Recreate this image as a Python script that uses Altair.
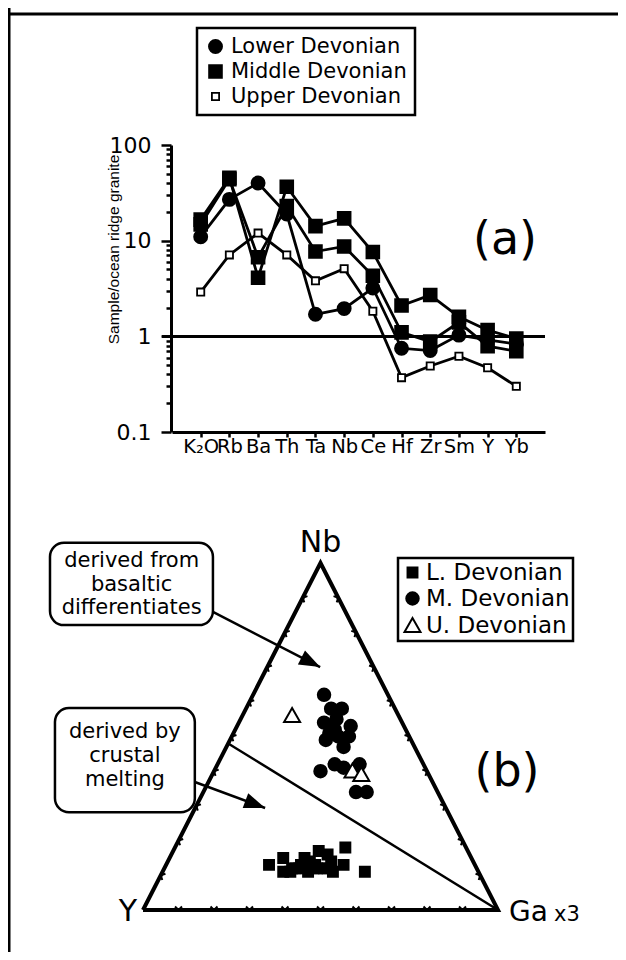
import altair as alt
import pandas as pd

FONT = "DejaVu Sans"
FONT_NARROW = "Liberation Sans"

# ---------------- panel (a): spider diagram ----------------
elements = ["K₂O", "Rb", "Ba", "Th", "Ta", "Nb", "Ce", "Hf", "Zr", "Sm", "Y", "Yb"]
lower_devonian = [11, 27, 40, 19, 1.7, 1.95, 3.2, 0.75, 0.71, 1.03, 0.92, 0.83]
middle_devonian_1 = [16.6, 45.5, 4.1, 36.6, 14.2, 17.1, 7.6, 2.1, 2.7, 1.6, 1.16, 0.95]
middle_devonian_2 = [14.8, 44, 6.7, 23, 7.7, 8.7, 4.3, 1.1, 0.88, 1.4, 0.79, 0.70]
upper_devonian = [2.9, 7.1, 12, 7.1, 3.8, 5.1, 1.83, 0.37, 0.49, 0.62, 0.47, 0.30]
periods_a = ["Lower Devonian", "Middle Devonian", "Upper Devonian"]
y_major = [0.1, 1, 10, 100]
y_ticks = [0.1, 0.2, 0.3, 0.4, 0.5, 0.6, 0.7, 0.8, 0.9,
           1, 2, 3, 4, 5, 6, 7, 8, 9,
           10, 20, 30, 40, 50, 60, 70, 80, 90, 100]
ref_level = 1

# ---------------- panel (b): Nb - Y - Ga x3 ternary ----------------
periods_b = ["L. Devonian", "M. Devonian", "U. Devonian"]
l_nb = [13, 15, 11, 12, 13, 11, 14, 13, 17, 12, 14, 11, 18, 13, 11, 12, 12, 16, 15, 11, 12, 12, 12]
l_ga = [29, 32, 34, 36, 38, 41, 40, 42, 41, 45, 46, 48, 48, 50, 57, 37, 42, 44, 38, 36, 38, 43, 46]
l_y = [58, 53, 55, 52, 49, 48, 46, 45, 42, 43, 40, 41, 34, 37, 32, 51, 46, 40, 47, 53, 50, 45, 42]
m_nb = [62, 58, 58, 54, 55, 53, 50, 49, 50, 47, 40, 42, 41, 42, 34, 34, 52, 51]
m_ga = [20, 24, 27, 24, 27, 32, 33, 27, 30, 33, 30, 33, 36, 40, 43, 46, 28, 27]
m_y = [18, 18, 15, 22, 18, 15, 17, 24, 20, 20, 30, 25, 23, 18, 23, 20, 20, 22]
u_nb = [56, 40, 39]
u_ga = [14, 39, 42]
u_y = [30, 21, 19]
tick_fracs = [10, 20, 30, 40, 50, 60, 70, 80, 90]
boundary_nb = [48, 0]
boundary_ga = [0, 100]
box_texts_1 = ["derived from", "basaltic", "differentiates"]
box_texts_2 = ["derived by", "crustal", "melting"]

# ---------------- tables ----------------
rows = []
for sample, period, vals in [("L1", periods_a[0], lower_devonian),
                             ("M1", periods_a[1], middle_devonian_1),
                             ("M2", periods_a[1], middle_devonian_2),
                             ("U1", periods_a[2], upper_devonian)]:
    for i, (e, v) in enumerate(zip(elements, vals)):
        rows.append({"sample": sample, "period": period, "element": e, "idx": i, "value": v})
df_a = pd.DataFrame(rows)

rows = []
for period, nb, ga, yy in [(periods_b[0], l_nb, l_ga, l_y),
                           (periods_b[1], m_nb, m_ga, m_y),
                           (periods_b[2], u_nb, u_ga, u_y)]:
    for a, b, c in zip(nb, ga, yy):
        rows.append({"period": period, "nb": a, "ga": b, "y": c})
df_b = pd.DataFrame(rows)

df_frame = pd.DataFrame({"nb": [0, 100, 0, 0], "ga": [0, 0, 100, 0], "o": [0, 1, 2, 3]})
rows = []
for t in tick_fracs:
    rows.append({"nb": 0, "ga": t, "ang": 0})
    rows.append({"nb": t, "ga": 0, "ang": 117})
    rows.append({"nb": t, "ga": 100 - t, "ang": 243})
df_ticks = pd.DataFrame(rows)
df_bound = pd.DataFrame({"nb": boundary_nb, "ga": boundary_ga, "o": [0, 1]})

# annotation geometry, in the ternary plot's cartesian units
df_boxes = pd.DataFrame({"x1": [-0.262, -0.248], "x2": [0.197, 0.146],
                         "y1": [1.058, 0.582], "y2": [0.821, 0.282]})
df_box_text = pd.DataFrame({
    "t": box_texts_1 + box_texts_2,
    "X": [-0.032] * 3 + [-0.051] * 3,
    "Yc": [1.007, 0.938, 0.869, 0.513, 0.444, 0.375],
})
df_arrows = pd.DataFrame({"id": [1, 1, 2, 2], "o": [0, 1, 0, 1],
                          "X": [0.197, 0.499, 0.146, 0.344],
                          "Yc": [0.859, 0.700, 0.369, 0.294]})
df_heads = pd.DataFrame({"X": [0.499, 0.344], "Yc": [0.700, 0.294], "ang": [27, 20.4]})

# ---------------- panel (a) chart ----------------
major_test = " || ".join(f"datum.value == {v}" for v in y_major)
x_scale_a = alt.Scale(type="point", domain=elements, range=[164, 537], padding=1.1)
y_scale_a = alt.Scale(type="log", domain=[0.1, 100], range=[424, 137], nice=False)

x_axis_a = alt.Axis(title=None, offset=-520, domainWidth=3, domainColor="black",
                    tickColor="black", tickWidth=2.5, tickSize=5, labelFontSize=19.5,
                    labelFont=FONT, labelColor="black", labelPadding=0, labelAngle=0,
                    labelOverlap=False, grid=False)
y_axis_a = alt.Axis(values=y_ticks, offset=-163, domainWidth=3, domainColor="black",
                    tickColor="black", tickWidth=2.5,
                    tickSize={"condition": {"test": major_test, "value": 10}, "value": 5},
                    labelExpr=f"({major_test}) ? format(datum.value, '~g') : ''",
                    labelFontSize=22, labelFont=FONT, labelColor="black", labelPadding=10,
                    labelOverlap=False, grid=False,
                    title="Sample/ocean ridge granite", titleFont=FONT_NARROW, titleFontSize=15.5,
                    titleFontWeight="normal", titleColor="black", titleAngle=270,
                    titleX=-58, titleY=241, titleAlign="center", titleBaseline="middle")

leg_a = alt.Legend(title=None, orient="none", legendX=189, legendY=20, padding=8,
                   strokeColor="black", labelFontSize=21, labelFont=FONT, labelColor="black",
                   labelLimit=400, symbolSize=256, symbolStrokeColor="black",
                   symbolStrokeWidth=1.8, rowPadding=3, labelOffset=5)

shape_circle = "M-0.82,0A0.82,0.82 0 1,0 0.82,0A0.82,0.82 0 1,0 -0.82,0Z"
shape_square = "M-0.8,-0.8H0.8V0.8H-0.8Z"
shape_small_square = "M-0.45,-0.45H0.45V0.45H-0.45Z"

xa = alt.X("element:N", scale=x_scale_a, sort=elements, axis=x_axis_a)
ya = alt.Y("value:Q", scale=y_scale_a, axis=y_axis_a)

lines_a = alt.Chart(df_a).mark_line(color="black", strokeWidth=2.8).encode(
    x=xa, y=ya, detail="sample:N", order="idx:Q")
points_a = alt.Chart(df_a).mark_point(filled=True, strokeWidth=1.8,
                                       opacity=1, size=256).encode(
    x=xa, y=ya,
    shape=alt.Shape("period:N", scale=alt.Scale(domain=periods_a,
                    range=[shape_circle, shape_square, shape_small_square]), legend=leg_a),
    fill=alt.Fill("period:N", scale=alt.Scale(domain=periods_a,
                  range=["black", "black", "white"]), legend=leg_a),
    stroke=alt.Stroke("period:N", scale=alt.Scale(domain=periods_a,
                      range=["black", "black", "black"]), legend=leg_a),
)
ref_a = alt.Chart(df_a).mark_rule(color="black", strokeWidth=2.8).encode(
    y=alt.datum(ref_level, scale=y_scale_a), x=alt.value(154), x2=alt.value(537))
panel_a = alt.layer(lines_a, points_a, ref_a)

# ---------------- panel (b) chart ----------------
xs_b = alt.Scale(domain=[0, 1], range=[135, 490], nice=False, zero=False)
ys_b = alt.Scale(domain=[0, 1], range=[902, 555], nice=False, zero=False)
xb = alt.X("X:Q", scale=xs_b, axis=None)
yb = alt.Y("Yc:Q", scale=ys_b, axis=None)
calc = dict(X="(datum.ga + datum.nb / 2) / 100", Yc="datum.nb / 100")

frame_b = alt.Chart(df_frame).transform_calculate(**calc).mark_line(
    color="black", strokeWidth=4, strokeJoin="miter").encode(x=xb, y=yb, order="o:Q")
ticks_b = alt.Chart(df_ticks).transform_calculate(**calc).mark_point(
    shape="M-1,-1L0,0L1,-1", size=49, color="black", strokeWidth=2, filled=False,
    opacity=1).encode(x=xb, y=yb, angle=alt.Angle("ang:Q", scale=None))
bound_b = alt.Chart(df_bound).transform_calculate(**calc).mark_line(
    color="black", strokeWidth=2.5).encode(x=xb, y=yb, order="o:Q")

leg_b = alt.Legend(title=None, orient="none", legendX=390, legendY=550, padding=3,
                   strokeColor="black", labelFontSize=23, labelFont=FONT, labelColor="black",
                   labelLimit=400, symbolSize=256, symbolStrokeColor="black",
                   symbolStrokeWidth=2, rowPadding=2, labelOffset=2)
shape_sq_b = "M-0.62,-0.62H0.62V0.62H-0.62Z"
shape_ci_b = "M-0.78,0A0.78,0.78 0 1,0 0.78,0A0.78,0.78 0 1,0 -0.78,0Z"
shape_tr_b = "M0,-0.95L1,0.8L-1,0.8Z"
points_b = alt.Chart(df_b).transform_calculate(**calc).mark_point(
    filled=True, strokeWidth=2, opacity=1, size=256).encode(
    x=xb, y=yb,
    shape=alt.Shape("period:N", scale=alt.Scale(domain=periods_b,
                    range=[shape_sq_b, shape_ci_b, shape_tr_b]), legend=leg_b),
    fill=alt.Fill("period:N", scale=alt.Scale(domain=periods_b,
                  range=["black", "black", "white"]), legend=leg_b),
    stroke=alt.Stroke("period:N", scale=alt.Scale(domain=periods_b,
                      range=["black", "black", "black"]), legend=leg_b),
)

boxes_b = alt.Chart(df_boxes).mark_rect(fill="white", stroke="black", strokeWidth=2.5,
                                        cornerRadius=14).encode(
    x=alt.X("x1:Q", scale=xs_b, axis=None), x2="x2:Q",
    y=alt.Y("y1:Q", scale=ys_b, axis=None), y2="y2:Q")
box_text_b = alt.Chart(df_box_text).mark_text(font=FONT, fontSize=21, color="black",
                                              align="center", baseline="middle").encode(
    x=xb, y=yb, text="t:N")
arrows_b = alt.Chart(df_arrows).mark_line(color="black", strokeWidth=2.5).encode(
    x=xb, y=yb, detail="id:N", order="o:Q")
heads_b = alt.Chart(df_heads).mark_point(shape="M0,0L-2,-0.75L-2,0.75Z", size=440,
                                          filled=True, color="black", opacity=1).encode(
    x=xb, y=yb, angle=alt.Angle("ang:Q", scale=None))

corner_nb = alt.Chart(pd.DataFrame({"nb": [100], "ga": [0], "t": ["Nb"]})).transform_calculate(
    **calc).mark_text(font=FONT, fontSize=30, color="black", align="center",
                      baseline="middle", dy=-20).encode(x=xb, y=yb, text="t:N")
corner_y = alt.Chart(pd.DataFrame({"nb": [0], "ga": [0], "t": ["Y"]})).transform_calculate(
    **calc).mark_text(font=FONT, fontSize=30, color="black", align="right",
                      baseline="middle", dx=-6, dy=2).encode(x=xb, y=yb, text="t:N")
corner_ga = alt.Chart(pd.DataFrame({"nb": [0], "ga": [100], "t": ["Ga"]})).transform_calculate(
    **calc).mark_text(font=FONT, fontSize=28, color="black", align="left",
                      baseline="middle", dx=11, dy=3).encode(x=xb, y=yb, text="t:N")
corner_x3 = alt.Chart(pd.DataFrame({"nb": [0], "ga": [100], "t": ["x3"]})).transform_calculate(
    **calc).mark_text(font=FONT, fontSize=21, color="black", align="left",
                      baseline="middle", dx=56, dy=5).encode(x=xb, y=yb, text="t:N")

panel_b = alt.layer(bound_b, arrows_b, boxes_b, box_text_b, heads_b, frame_b, ticks_b,
                    points_b, corner_nb, corner_y, corner_ga, corner_x3)

# ---------------- page furniture ----------------
label_a = alt.Chart(pd.DataFrame({"t": ["(a)"]})).mark_text(
    font=FONT, fontSize=46, color="black", align="center", baseline="middle").encode(
    text="t:N", x=alt.value(497), y=alt.value(232))
label_b = alt.Chart(pd.DataFrame({"t": ["(b)"]})).mark_text(
    font=FONT, fontSize=46, color="black", align="center", baseline="middle").encode(
    text="t:N", x=alt.value(499), y=alt.value(764))
frame_left = alt.Chart(pd.DataFrame({"a": [0]})).mark_rule(color="black", strokeWidth=3).encode(
    x=alt.value(1), y=alt.value(0), y2=alt.value(944))
frame_top = alt.Chart(pd.DataFrame({"a": [0]})).mark_rule(color="black", strokeWidth=3).encode(
    y=alt.value(6), x=alt.value(0), x2=alt.value(610))

chart = alt.layer(frame_left, frame_top, panel_a, panel_b, label_a, label_b).resolve_scale(
    x="independent", y="independent", shape="independent", fill="independent",
    stroke="independent"
).properties(
    width=610, height=944, padding=0, autosize=alt.AutoSizeParams(type="none")
).configure(font=FONT).configure_view(strokeWidth=0).configure_legend(strokeWidth=2.5)

chart.save("out.html", embed_options={"renderer": "svg", "actions": False})
